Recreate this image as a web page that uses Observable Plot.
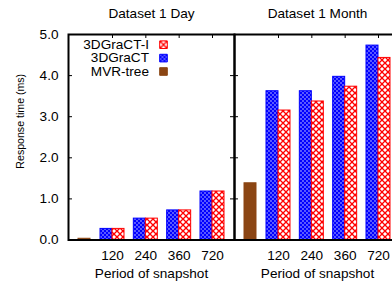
<!DOCTYPE html>
<html><head><meta charset="utf-8">
<script src="https://cdn.jsdelivr.net/npm/d3@7"></script>
<script src="https://cdn.jsdelivr.net/npm/@observablehq/plot@0.6"></script>
<style>html,body{margin:0;padding:0;background:#fff;overflow:hidden}svg{max-width:none!important}</style>
</head><body><div id="chart"></div>
<script>
const datasets = ["Dataset 1 Day", "Dataset 1 Month"];
const periods = ["120", "240", "360", "720"];
const series = ["3DGraCT-I", "3DGraCT", "MVR-tree"];
const graCTDay = [0.27, 0.52, 0.72, 1.18];
const graCTIDay = [0.27, 0.52, 0.72, 1.18];
const graCTMonth = [3.62, 3.62, 3.97, 4.73];
const graCTIMonth = [3.15, 3.37, 3.73, 4.43];
const mvrTree = [0.03, 1.38];
const yTicks = [0, 1, 2, 3, 4, 5];
const xLabel = "Period of snapshot";
const yLabel = "Response time (ms)";

const W = 166;          // facet width (px)
const bw = 0.36;        // bar width in slot units
const mvrPos = 0.16;    // MVR-tree bar slot
const seriesFill = {"3DGraCT-I": "url(#redX)", "3DGraCT": "url(#blueDots)", "MVR-tree": "#8b4513"};
const seriesStroke = {"3DGraCT-I": "#ff0000", "3DGraCT": "#0000ff", "MVR-tree": "#8b4513"};

const rows = [];
datasets.forEach((ds, j) => {
  const blue = j === 0 ? graCTDay : graCTMonth;
  const red = j === 0 ? graCTIDay : graCTIMonth;
  periods.forEach((p, i) => {
    rows.push({dataset: ds, x1: i + 1 - bw, x2: i + 1, series: "3DGraCT", value: blue[i]});
    rows.push({dataset: ds, x1: i + 1, x2: i + 1 + bw, series: "3DGraCT-I", value: red[i]});
  });
  rows.push({dataset: ds, x1: mvrPos - bw / 2, x2: mvrPos + bw / 2, series: "MVR-tree", value: mvrTree[j]});
});

const mT = 34, mB = 49.5, H = 289;
const frameH = H - mT - mB;
const tickPos = periods.map((_, i) => i + 1);

const barMark = s => Plot.rect(rows.filter(d => d.series === s), {
  fx: "dataset", x1: "x1", x2: "x2", y1: 0, y2: "value",
  fill: seriesFill[s], stroke: seriesStroke[s], strokeWidth: 1
});

const legendMarks = series.flatMap((s, i) => [
  Plot.text([s], {fx: () => datasets[0], text: d => d, frameAnchor: "top-left", textAnchor: "end", lineAnchor: "middle", dx: 80.5, dy: 10.2 + 13.4 * i, fill: "#000"}),
  Plot.dot([s], {fx: () => datasets[0], frameAnchor: "top-left", dx: 95, dy: 10.2 + 13.4 * i, symbol: "square", r: 4.3, fill: seriesFill[s], stroke: seriesStroke[s], strokeWidth: 1})
]);

const svg = Plot.plot({
  width: 68 + 2 * W, height: H,
  marginLeft: 68, marginRight: 0, marginTop: mT, marginBottom: mB,
  style: {fontFamily: "'Liberation Sans', Arial, sans-serif", fontSize: "13.6px", color: "#000", background: "#fff", maxWidth: "none"},
  fx: {domain: datasets, padding: 0, axis: null, label: null},
  x: {domain: [-0.32, 4.66], axis: null},
  y: {domain: [0, 5], axis: null},
  marks: [
    Plot.tickX(tickPos, {x: d => d, insetTop: frameH - 4, stroke: "#000"}),
    barMark("MVR-tree"),
    barMark("3DGraCT"),
    barMark("3DGraCT-I"),
    Plot.tickY(yTicks, {y: d => d, insetRight: W - 4, stroke: "#000"}),
    Plot.tickY(yTicks, {y: d => d, insetLeft: W - 4, stroke: "#000"}),
    Plot.tickX(tickPos, {x: d => d, insetBottom: frameH - 4, stroke: "#000"}),
    Plot.frame({stroke: "#000", strokeWidth: 2}),
    Plot.axisY(yTicks, {tickSize: 0, tickPadding: 10, tickFormat: d => d.toFixed(1), label: null, fill: "#000"}),
    Plot.axisX(tickPos, {tickSize: 0, tickPadding: 10, tickFormat: d => periods[d - 1], label: null, fill: "#000"}),
    Plot.text(datasets, {fx: d => d, text: d => d, frameAnchor: "top", lineAnchor: "middle", dy: -20.5, fill: "#000"}),
    Plot.text(datasets, {fx: d => d, text: () => xLabel, frameAnchor: "bottom", lineAnchor: "middle", dy: 33.5, fill: "#000"}),
    Plot.text([datasets[0]], {fx: d => d, text: () => yLabel, frameAnchor: "left", textAnchor: "middle", lineAnchor: "middle", rotate: -90, dx: -48, dy: -16, fontSize: 10.6, fill: "#000"}),
    ...legendMarks
  ]
});
svg.style.maxWidth = "none";

const defs = d3.select(svg).insert("defs", ":first-child");
defs.html(`
<pattern id="blueDots" patternUnits="userSpaceOnUse" width="4" height="4">
  <rect width="4" height="4" fill="#0000ff"/>
  <circle cx="1" cy="1" r="0.65" fill="#ffffff"/>
  <circle cx="3" cy="3" r="0.65" fill="#ffffff"/>
</pattern>
<pattern id="redX" patternUnits="userSpaceOnUse" width="6" height="6">
  <rect width="6" height="6" fill="#ffffff"/>
  <path d="M0,0L6,6M6,0L0,6" stroke="#ff0000" stroke-width="1.3" fill="none"/>
</pattern>`);

document.getElementById("chart").appendChild(svg);
</script>
</body></html>
